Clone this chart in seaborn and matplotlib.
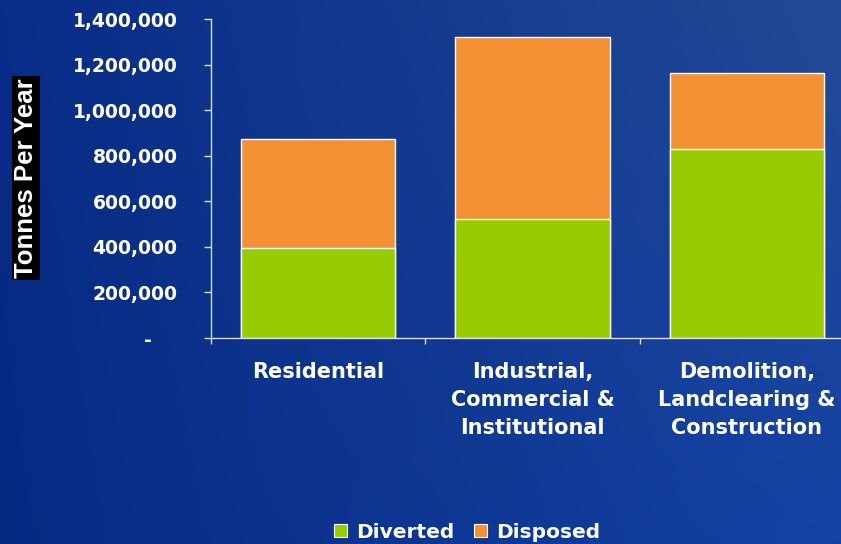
import numpy as np
import pandas as pd
import matplotlib
matplotlib.use("Agg")
import matplotlib.pyplot as plt
import seaborn as sns
from matplotlib.patches import Patch
from matplotlib.ticker import FuncFormatter, FixedLocator

# Waste generation by sector (tonnes per year)
sectors = ["Residential",
           "Industrial,\nCommercial &\nInstitutional",
           "Demolition,\nLandclearing &\nConstruction"]
diverted = [394000, 522000, 829000]
disposed = [478000, 798000, 334000]
series_names = ["Diverted", "Disposed"]
y_ticks = [0, 200000, 400000, 600000, 800000, 1000000, 1200000, 1400000]

green = "#99CC00"
orange = "#F39033"

df = pd.DataFrame({"sector": sectors,
                   "diverted": diverted,
                   "disposed": disposed})
df["total"] = df["diverted"] + df["disposed"]

sns.set_theme(style="white")
plt.rcParams["font.family"] = ["DejaVu Sans"]
plt.rcParams["font.weight"] = "bold"

fig = plt.figure(figsize=(8.41, 5.44), dpi=100)

# blue gradient backdrop
bg = fig.add_axes([0, 0, 1, 1], zorder=-10)
h, w = 272, 420
yy, xx = np.mgrid[0:1:h * 1j, 0:1:w * 1j]
tl = np.array([8, 44, 136]) / 255
tr = np.array([34, 74, 150]) / 255
bl = np.array([6, 42, 130]) / 255
br = np.array([20, 66, 164]) / 255
img = ((1 - xx)[..., None] * (1 - yy)[..., None] * tl
       + xx[..., None] * (1 - yy)[..., None] * tr
       + (1 - xx)[..., None] * yy[..., None] * bl
       + xx[..., None] * yy[..., None] * br)
bg.imshow(np.clip(img, 0, 1), aspect="auto", extent=[0, 1, 0, 1],
          origin="upper", interpolation="bilinear")
bg.set_axis_off()

ax = fig.add_axes([211 / 841, (544 - 338) / 544, 643 / 841, 319 / 544])
ax.patch.set_alpha(0)

sns.barplot(data=df, x="sector", y="total", color=orange, saturation=1,
            width=0.72, edgecolor="white", linewidth=1.0, ax=ax)
sns.barplot(data=df, x="sector", y="diverted", color=green, saturation=1,
            width=0.72, edgecolor="white", linewidth=1.0, ax=ax)

ax.set_xlim(-0.5, 2.5)
ax.set_ylim(0, 1400000)
ax.set_xlabel("")
ax.set_ylabel("")

axis_col = "#D8DEEA"
for side in ["top", "right"]:
    ax.spines[side].set_visible(False)
for side in ["left", "bottom"]:
    ax.spines[side].set_color(axis_col)
    ax.spines[side].set_linewidth(1.0)

ax.yaxis.set_major_locator(FixedLocator(y_ticks))
ax.yaxis.set_major_formatter(
    FuncFormatter(lambda v, p: "-    " if v == 0 else f"{int(v):,}"))
ax.tick_params(axis="y", direction="out", length=5, width=1.0,
               color=axis_col, pad=19, labelsize=13.5, labelcolor="white",
               left=True)

ax.set_xticks(range(len(sectors)))
ax.set_xticklabels(sectors, fontsize=15, color="white", fontweight="bold",
                   linespacing=1.5, va="top")
ax.tick_params(axis="x", length=0, pad=17)
ax.set_xticks([-0.5, 0.5, 1.5, 2.5], minor=True)
ax.tick_params(axis="x", which="minor", direction="out", length=4.3,
               width=1.0, color=axis_col, bottom=True)

fig.text(26 / 841, 1 - 178 / 544, "Tonnes Per Year", rotation=90,
         ha="center", va="center", color="white", fontsize=18.5,
         fontweight="bold", family=["Liberation Sans", "DejaVu Sans"],
         bbox=dict(facecolor="black", edgecolor="none", pad=1.5))

handles = [Patch(facecolor=green, edgecolor="white", linewidth=0.8),
           Patch(facecolor=orange, edgecolor="white", linewidth=0.8)]
leg = fig.legend(handles, series_names, loc="center",
                 bbox_to_anchor=(467 / 841, 1 - 532 / 544), ncol=2,
                 frameon=False, fontsize=14.5, handlelength=0.62,
                 handleheight=0.62, handletextpad=0.45, columnspacing=1.0)
for t in leg.get_texts():
    t.set_color("white")
    t.set_fontweight("bold")

fig.savefig("out.png", dpi=100)
